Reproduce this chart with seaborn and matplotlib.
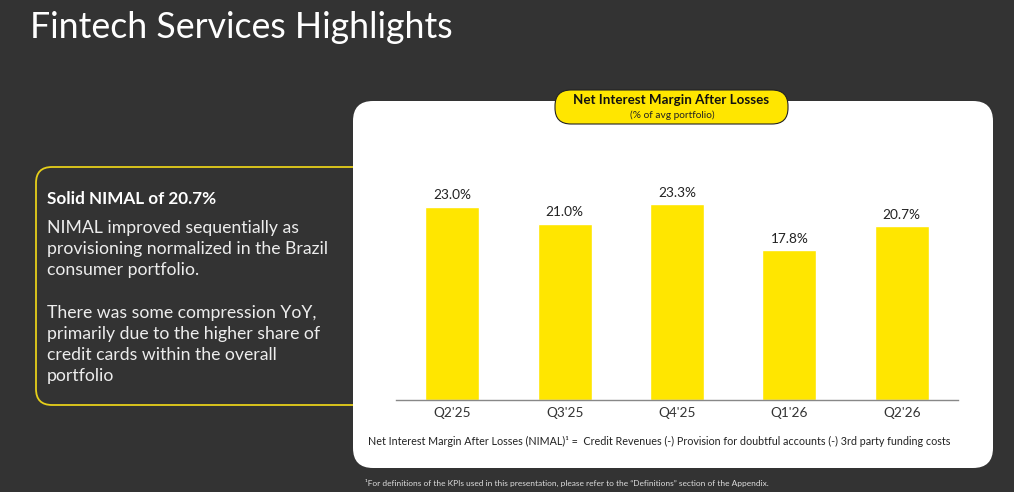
import matplotlib
matplotlib.use('Agg')
import matplotlib.pyplot as plt
import seaborn as sns
from matplotlib.patches import FancyBboxPatch

# Data
quarters = ["Q2'25", "Q3'25", "Q4'25", "Q1'26", "Q2'26"]
nimal = [23.0, 21.0, 23.3, 17.8, 20.7]
value_labels = ['23.0%', '21.0%', '23.3%', '17.8%', '20.7%']

body_lines = [
    'NIMAL improved sequentially as',
    'provisioning normalized in the Brazil',
    'consumer portfolio.',
    '',
    'There was some compression YoY,',
    'primarily due to the higher share of',
    'credit cards within the overall',
    'portfolio',
]

YELLOW = '#FFE600'
DARK = '#333333'

sns.set_theme(style='white')
plt.rcParams['font.family'] = ['Lato', 'DejaVu Sans']

fig = plt.figure(figsize=(10.14, 4.92), dpi=100, facecolor=DARK)

# background layer in pixel coordinates
bg = fig.add_axes([0, 0, 1, 1])
bg.set_xlim(0, 1014)
bg.set_ylim(492, 0)
bg.axis('off')
bg.set_facecolor(DARK)

bg.text(30, 28, 'Fintech Services Highlights', color='white', fontsize=25.7,
        va='center', ha='left')

# left highlight box
bg.add_patch(FancyBboxPatch((36, 167), 340, 238,
                            boxstyle='round,pad=0,rounding_size=16',
                            facecolor=DARK, edgecolor='#E6CF1A', lw=1.3))
bg.text(47, 199, 'Solid NIMAL of 20.7%', color='white', fontsize=12.3,
        fontweight='bold', va='center', ha='left')
for i, line in enumerate(body_lines):
    bg.text(47, 228 + i * 21.2, line, color='#EDEDED', fontsize=12.7,
            va='center', ha='left')

# white chart panel
bg.add_patch(FancyBboxPatch((353, 101), 640, 367,
                            boxstyle='round,pad=0,rounding_size=20',
                            facecolor='white', edgecolor='none'))

# title pill
bg.add_patch(FancyBboxPatch((555, 90), 233, 34,
                            boxstyle='round,pad=0,rounding_size=16',
                            facecolor=YELLOW, edgecolor='#222222', lw=0.8))
bg.text(671, 100.5, 'Net Interest Margin After Losses', color='#111111',
        fontsize=9.6, fontweight='bold', ha='center', va='center')
bg.text(672, 115, '(% of avg portfolio)', color='#222222', fontsize=7.3,
        ha='center', va='center')

bg.text(659, 441,
        'Net Interest Margin After Losses (NIMAL)\u00b9 =  Credit Revenues (-) '
        'Provision for doubtful accounts (-) 3rd party funding costs',
        color='#222222', fontsize=7.75, ha='center', va='center')
bg.text(365, 483,
        '\u00b9For definitions of the KPIs used in this presentation, please refer '
        'to the \u201cDefinitions\u201d section of the Appendix.',
        color='#DDDDDD', fontsize=6.0, ha='left', va='center')

# bar chart
ax = fig.add_axes([396 / 1014, 92 / 492, 562 / 1014, 230 / 492])
ax.set_facecolor('none')
sns.barplot(x=quarters, y=nimal, color=YELLOW, saturation=1, width=0.48, ax=ax)
ax.set_xlim(-0.5, 4.5)
ax.set_ylim(0, 230 / 8.4)
ax.bar_label(ax.containers[0], labels=value_labels, padding=4,
             fontsize=9.8, color='#222222')
for s in ['top', 'right', 'left']:
    ax.spines[s].set_visible(False)
ax.spines['bottom'].set_color('#888888')
ax.spines['bottom'].set_linewidth(1)
ax.set_yticks([])
ax.set_xlabel('')
ax.set_ylabel('')
ax.tick_params(axis='x', length=0, pad=5, labelsize=9.8, labelcolor='#333333')

fig.savefig('out.png', dpi=100, facecolor=DARK)
